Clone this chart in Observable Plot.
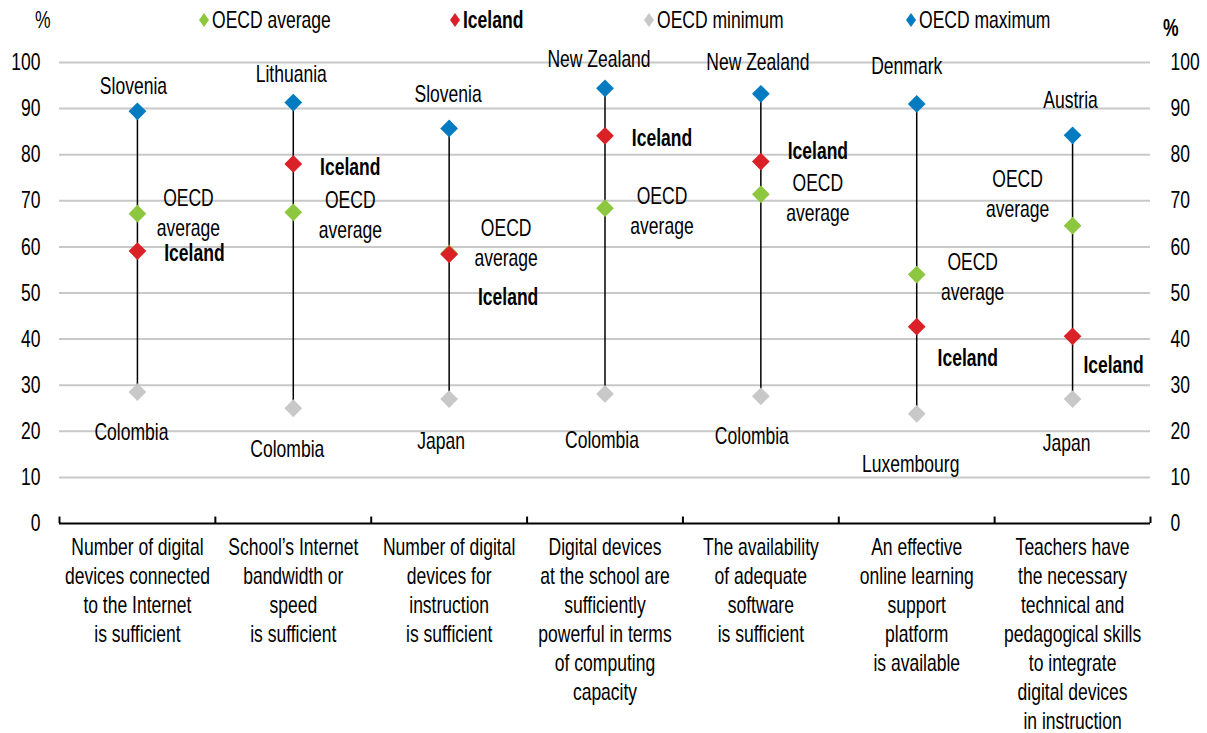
<!DOCTYPE html>
<html><head><meta charset="utf-8">
<script src="https://cdn.jsdelivr.net/npm/d3@7"></script>
<script src="https://cdn.jsdelivr.net/npm/@observablehq/plot@0.6"></script>
<style>
body{margin:0;background:#fff;font-family:"Liberation Sans",Arial,sans-serif;color:#000;}
#legend{position:relative;width:1207px;height:40px;font-size:24px;}
.item{position:absolute;top:6px;display:flex;align-items:center;white-space:nowrap;line-height:28px;}
.item svg{margin-right:3px;}
.item span{display:inline-block;transform:scaleX(0.73);transform-origin:left center;}
.pct{position:absolute;font-size:24px;transform:scaleX(0.73);transform-origin:left center;}
</style>
</head><body>
<div id="legend"></div>
<div id="chart"></div>
<script>
// ---- data ----
const categories = [
  "Number of digital\ndevices connected\nto the Internet\nis sufficient",
  "School’s Internet\nbandwidth or\nspeed\nis sufficient",
  "Number of digital\ndevices for\ninstruction\nis sufficient",
  "Digital devices\nat the school are\nsufficiently\npowerful in terms\nof computing\ncapacity",
  "The availability\nof adequate\nsoftware\nis sufficient",
  "An effective\nonline learning\nsupport\nplatform\nis available",
  "Teachers have\nthe necessary\ntechnical and\npedagogical skills\nto integrate\ndigital devices\nin instruction"
];
const oecdAvg = [67.2, 67.5, 58.6, 68.4, 71.4, 54.0, 64.6];
const iceland = [59.1, 78.0, 58.4, 84.1, 78.5, 42.7, 40.6];
const oecdMin = [28.5, 25.0, 27.0, 28.1, 27.6, 23.8, 27.0];
const oecdMax = [89.4, 91.3, 85.7, 94.4, 93.2, 91.0, 84.2];
const minCountry = ["Colombia", "Colombia", "Japan", "Colombia", "Colombia", "Luxembourg", "Japan"];
const maxCountry = ["Slovenia", "Lithuania", "Slovenia", "New Zealand", "New Zealand", "Denmark", "Austria"];
const yTicks = [0, 10, 20, 30, 40, 50, 60, 70, 80, 90, 100];
const seriesNames = ["OECD average", "Iceland", "OECD minimum", "OECD maximum"];

// ---- layout (label offsets in px from their marker) ----
const maxOff = [[-4,-27],[-2,-30],[-1,-36],[-6,-31],[-3,-33],[-10,-40],[-2,-37]];
const minOff = [[-6,38],[-6,39],[-8,40],[-3,44],[-9,38],[-6,49],[-6,42]];
const avgOff = [[51,-2],[57,1],[57,-12],[57,1],[57,2],[56,1],[-55,-33]];
const iceOff = [[57,0],[57,1],[59,41],[57,1],[57,-12],[51,30],[41,27]];
const SQUEEZE = 0.73;

const colors = {"OECD average":"#8DC63F", "Iceland":"#DA2128", "OECD minimum":"#C8C8C8", "OECD maximum":"#037BC1"};
const font = `"Liberation Sans",Arial,sans-serif`;

// ---- legend ----
const legend = document.getElementById("legend");
const legendLeft = [199, 450, 644, 906];
seriesNames.forEach((s, i) => {
  const d = document.createElement("div");
  d.className = "item";
  d.style.left = legendLeft[i] + "px";
  d.innerHTML = `<svg width="10" height="14"><polygon points="5,0 10,7 5,14 0,7" fill="${colors[s]}"/></svg><span style="${s==='Iceland'?'font-weight:bold':''}">${s}</span>`;
  legend.appendChild(d);
});
const p1 = document.createElement("div"); p1.className="pct"; p1.textContent="%"; p1.style.left="35px"; p1.style.top="6px"; legend.appendChild(p1);
const p2 = document.createElement("div"); p2.className="pct"; p2.textContent="%"; p2.style.left="1163px"; p2.style.top="14px"; p2.style.fontWeight="bold"; legend.appendChild(p2);

// ---- table ----
const rows = categories.map((c, i) => ({i, x: i + 0.5, cat: c, avg: oecdAvg[i], ice: iceland[i], min: oecdMin[i], max: oecdMax[i]}));
const ann = [];
rows.forEach((r, i) => {
  ann.push({x: r.x, y: r.max, text: maxCountry[i], off: maxOff[i], bold: false});
  ann.push({x: r.x, y: r.min, text: minCountry[i], off: minOff[i], bold: false});
  ann.push({x: r.x, y: r.avg, text: "OECD\naverage", off: avgOff[i], bold: false});
  ann.push({x: r.x, y: r.ice, text: "Iceland", off: iceOff[i], bold: true});
});

const plot = Plot.plot({
  width: 1207,
  height: 693,
  marginTop: 22,
  marginBottom: 210,
  marginLeft: 59,
  marginRight: 57,
  style: {fontFamily: font, fontSize: "24px", color: "#000", background: "#fff"},
  x: {domain: [0, categories.length], axis: null},
  y: {domain: [0, 100], axis: null},
  marks: [
    Plot.gridY(yTicks.filter(t => t > 0), {stroke: "#c8c8c8", strokeOpacity: 1, strokeWidth: 2}),
    Plot.axisY({anchor: "left", ticks: yTicks, tickSize: 0, tickPadding: 19, label: null, fontSize: 24}),
    Plot.axisY({anchor: "right", ticks: yTicks, tickSize: 0, tickPadding: 20, label: null, fontSize: 24}),
    Plot.ruleY([0], {stroke: "#000", strokeWidth: 2}),
    Plot.ruleX(d3.range(categories.length + 1), {x: d => d, y1: 0, y2: 1.4, stroke: "#000", strokeWidth: 2}),
    Plot.text(rows, {x: "x", text: "cat", frameAnchor: "bottom", lineAnchor: "top", dy: 11, lineHeight: 1.21, fontSize: 24, fill: "#000"}),
    Plot.ruleX(rows, {x: "x", y1: "min", y2: "max", stroke: "#000", strokeWidth: 1.5}),
    Plot.dot(rows, {x: "x", y: "min", symbol: "diamond2", r: 8, fill: colors["OECD minimum"], stroke: "none"}),
    Plot.dot(rows, {x: "x", y: "max", symbol: "diamond2", r: 8, fill: colors["OECD maximum"], stroke: "none"}),
    Plot.dot(rows, {x: "x", y: "avg", symbol: "diamond2", r: 8, fill: colors["OECD average"], stroke: "none"}),
    Plot.dot(rows, {x: "x", y: "ice", symbol: "diamond2", r: 8, fill: colors["Iceland"], stroke: "none"}),
    ...ann.map(a => Plot.text([a], {x: "x", y: "y", text: "text", dx: a.off[0], dy: a.off[1], fontSize: 24,
      lineHeight: 1.25, fill: "#000", fontWeight: a.bold ? "bold" : "normal"}))
  ]
});
// narrow the lettering to match the condensed face of the reference
plot.querySelectorAll("text").forEach(t => {
  const tr = t.getAttribute("transform");
  if (tr) t.setAttribute("transform", tr + ` scale(${SQUEEZE},1)`);
  else {
    const x = +t.getAttribute("x") || 0;
    t.setAttribute("transform", `translate(${x},0) scale(${SQUEEZE},1) translate(${-x},0)`);
  }
});
document.getElementById("chart").appendChild(plot);
</script>
</body></html>
